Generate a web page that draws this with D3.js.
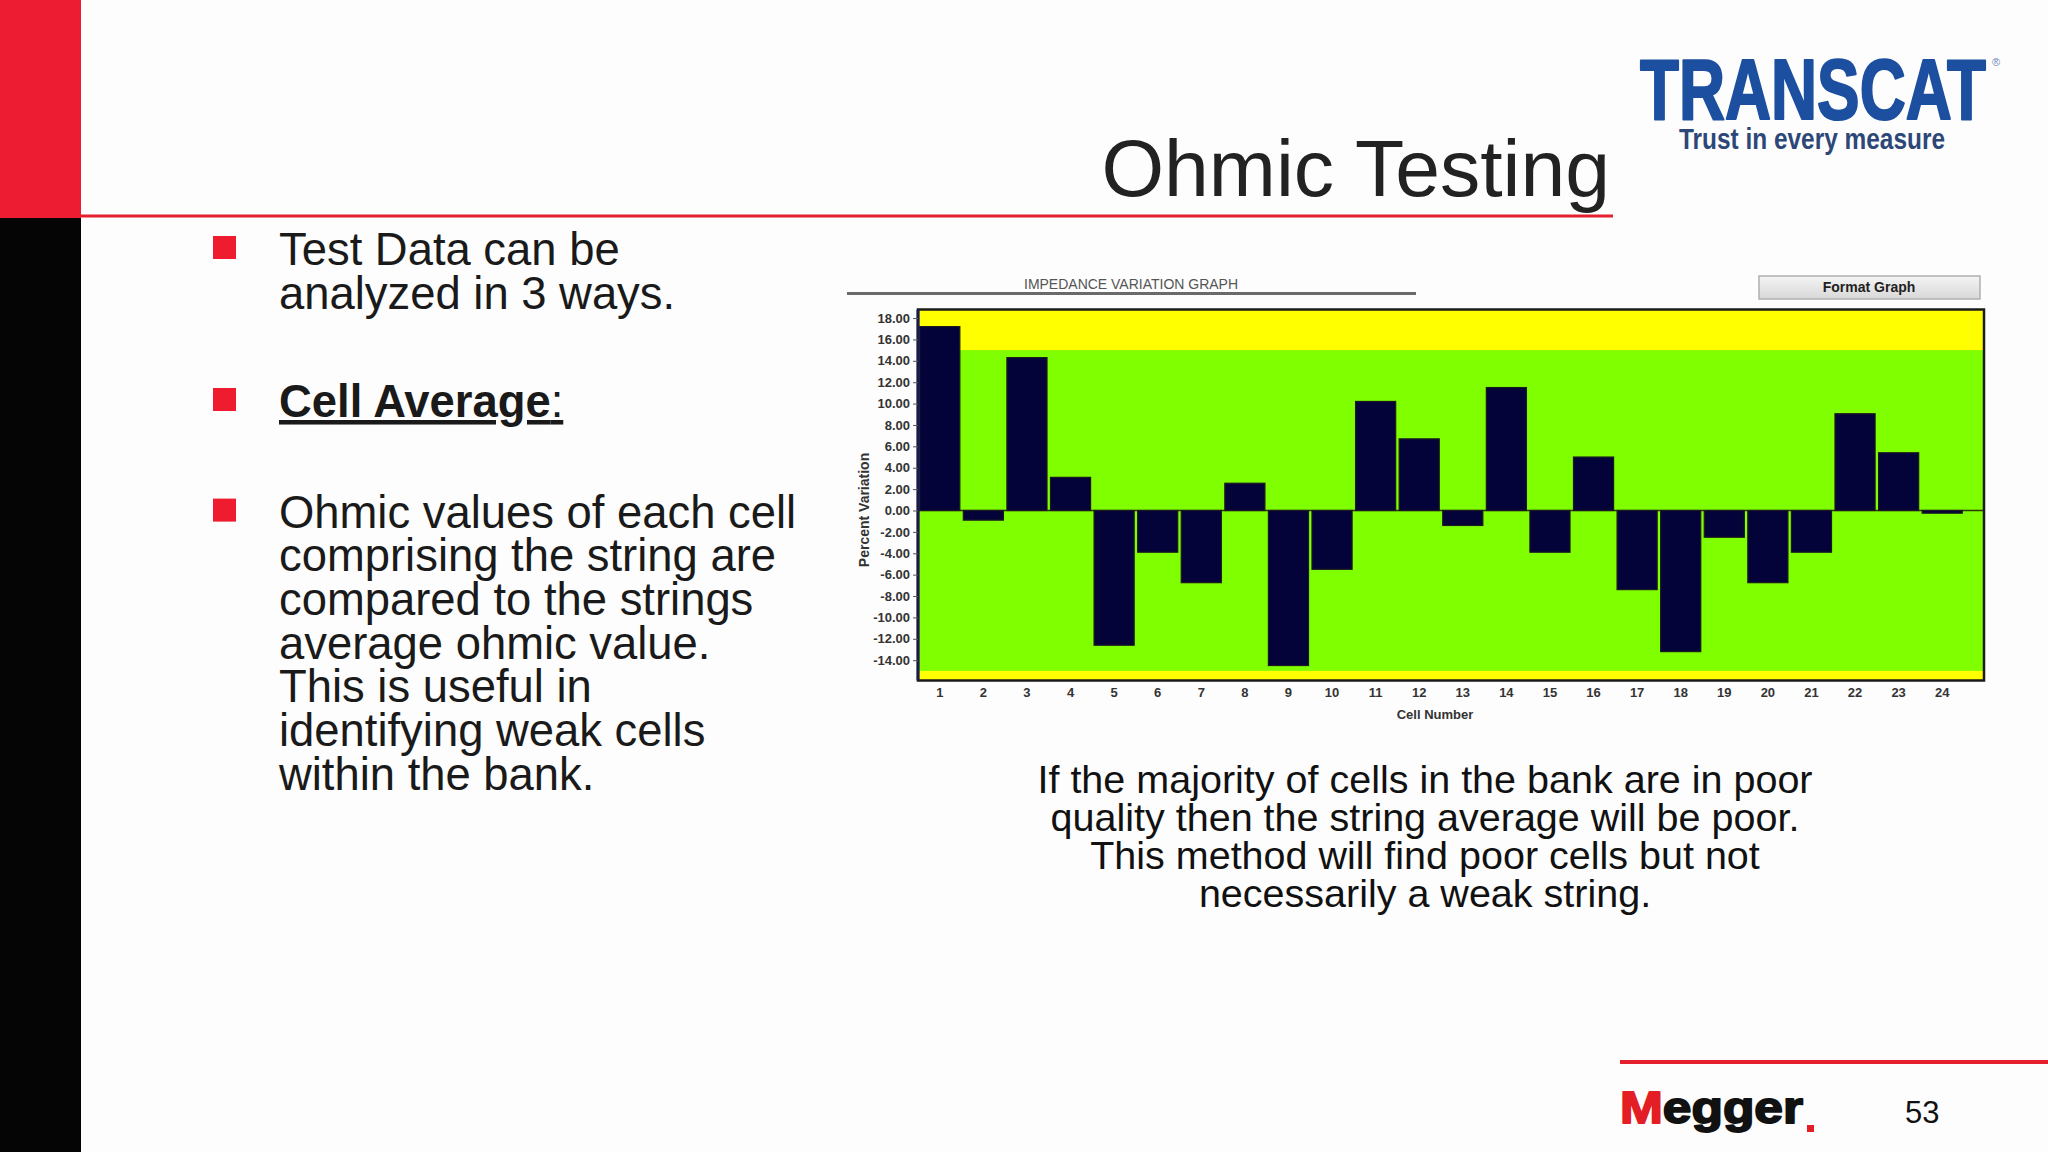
<!DOCTYPE html>
<html>
<head>
<meta charset="utf-8">
<script src="https://cdn.jsdelivr.net/npm/d3@7"></script>
<style>
  html, body { margin: 0; padding: 0; background: #fdfdfd; }
  svg { display: block; }
</style>
</head>
<body>
<svg id="slide" width="2048" height="1152"></svg>
<script>
// ---------- data ----------
const cells = [1,2,3,4,5,6,7,8,9,10,11,12,13,14,15,16,17,18,19,20,21,22,23,24];
const variation = [17.2,-0.9,14.3,3.1,-12.6,-3.9,-6.75,2.55,-14.5,-5.5,10.2,6.7,-1.4,11.5,-3.9,5.0,-7.4,-13.2,-2.5,-6.75,-3.9,9.05,5.4,-0.25];
const yTickValues = [18,16,14,12,10,8,6,4,2,0,-2,-4,-6,-8,-10,-12,-14];
const yDomain = [-15.9, 18.8];
const okBand = [-15, 15];          // green zone; yellow beyond
const chartTitle = "IMPEDANCE VARIATION GRAPH";
const yTitle = "Percent Variation";
const xTitle = "Cell Number";
const slideTitle = "Ohmic Testing";
const bullet1 = ["Test Data can be", "analyzed in 3 ways."];
const bullet3 = ["Ohmic values of each cell", "comprising the string are", "compared to the strings",
                 "average ohmic value.", "This is useful in", "identifying weak cells", "within the bank."];
const caption = ["If the majority of cells in the bank are in poor", "quality then the string average will be poor.",
                 "This method will find poor cells but not", "necessarily a weak string."];

const svg = d3.select("#slide");
const FONT = "'Liberation Sans', Arial, sans-serif";
const NARROW = "'Liberation Sans Narrow', 'Liberation Sans', Arial, sans-serif";

// ---------- slide decoration ----------
svg.append("rect").attr("x",0).attr("y",0).attr("width",2048).attr("height",1152).attr("fill","#fdfdfd");
svg.append("rect").attr("x",0).attr("y",0).attr("width",81).attr("height",218).attr("fill","#ee1c33");
svg.append("rect").attr("x",0).attr("y",218).attr("width",81).attr("height",934).attr("fill","#050505");
svg.append("rect").attr("x",81).attr("y",214.5).attr("width",1532).attr("height",3).attr("fill","#e5202e");

svg.append("text").attr("x",1610).attr("y",196).attr("text-anchor","end")
  .attr("font-family",FONT).attr("font-size",80.5).attr("fill","#222").text(slideTitle);

// TRANSCAT logo
svg.append("text").attr("x",1640).attr("y",119).attr("font-family",NARROW)
  .attr("font-weight","bold").attr("font-size",86).attr("fill","#1c4f9f")
  .attr("stroke","#1c4f9f").attr("stroke-width",2.2).attr("stroke-linejoin","round")
  .attr("textLength",346).attr("lengthAdjust","spacingAndGlyphs").text("TRANSCAT");
svg.append("text").attr("x",1992).attr("y",66).attr("font-family",FONT).attr("font-size",11).attr("fill","#6b86b8").text("®");
svg.append("text").attr("x",1679).attr("y",149).attr("font-family",NARROW)
  .attr("font-weight","bold").attr("font-size",29).attr("fill","#2d4878")
  .attr("textLength",266).attr("lengthAdjust","spacingAndGlyphs").text("Trust in every measure");

// bullets
const bulletX = 213, textX = 279, lh = 43.7;
function bulletSquare(baseline) {
  svg.append("rect").attr("x",bulletX).attr("y",baseline-29).attr("width",23).attr("height",23).attr("fill","#ee1c2e");
}
bulletSquare(265);
bullet1.forEach((t,i) => svg.append("text").attr("x",textX).attr("y",265+i*lh)
  .attr("font-family",FONT).attr("font-size",45.4).attr("fill","#1a1a1a").text(t));

bulletSquare(417);
const b2 = svg.append("text").attr("x",textX).attr("y",417).attr("font-family",FONT).attr("font-size",45.4)
  .attr("fill","#1a1a1a").attr("text-decoration","underline");
b2.append("tspan").attr("font-weight","bold").text("Cell Average");
b2.append("tspan").text(":");

bulletSquare(527.6);
bullet3.forEach((t,i) => svg.append("text").attr("x",textX).attr("y",527.6+i*lh)
  .attr("font-family",FONT).attr("font-size",45.4).attr("fill","#1a1a1a").text(t));

// caption
caption.forEach((t,i) => svg.append("text").attr("x",1425).attr("y",793+i*38).attr("text-anchor","middle")
  .attr("font-family",FONT).attr("font-size",39.5).attr("fill","#111").text(t));

// footer
svg.append("rect").attr("x",1620).attr("y",1060).attr("width",428).attr("height",4).attr("fill","#e5202e");
const meg = svg.append("text").attr("x",1620).attr("y",1123).attr("font-family",FONT).attr("font-weight","bold")
  .attr("font-size",44).attr("textLength",183).attr("lengthAdjust","spacingAndGlyphs")
  .attr("stroke-width",1.8).attr("stroke-linejoin","round");
meg.append("tspan").attr("fill","#e31e24").attr("stroke","#e31e24").text("M");
meg.append("tspan").attr("fill","#111").attr("stroke","#111").text("egger");
svg.append("rect").attr("x",1807).attr("y",1125).attr("width",7).attr("height",7).attr("fill","#e31e24");
svg.append("text").attr("x",1905).attr("y",1123).attr("font-family",FONT).attr("font-size",31).attr("fill","#111").text("53");

// ---------- chart ----------
const plot = {left: 918, right: 1984, top: 309.5, bottom: 680.5};
const bandRight = 1964;

const x = d3.scaleBand().domain(cells).range([plot.left, bandRight]).paddingInner(0.08).paddingOuter(0.04);
const y = d3.scaleLinear().domain(yDomain).range([plot.bottom, plot.top]);

// chart title + rule
svg.append("text").attr("x",1131).attr("y",289).attr("text-anchor","middle").attr("font-family",FONT)
  .attr("font-size",14).attr("fill","#555").attr("textLength",214).attr("lengthAdjust","spacingAndGlyphs").text(chartTitle);
svg.append("rect").attr("x",847).attr("y",292).attr("width",569).attr("height",3).attr("fill","#6a6a6a");

// Format Graph button
const grad = svg.append("defs").append("linearGradient").attr("id","btn").attr("x1",0).attr("y1",0).attr("x2",0).attr("y2",1);
grad.append("stop").attr("offset","0%").attr("stop-color","#f4f4f4");
grad.append("stop").attr("offset","100%").attr("stop-color","#d8d8d8");
svg.append("rect").attr("x",1759).attr("y",276).attr("width",221).attr("height",23)
  .attr("fill","url(#btn)").attr("stroke","#b0b0b0").attr("stroke-width",1.5);
svg.append("text").attr("x",1869).attr("y",291.5).attr("text-anchor","middle").attr("font-family",FONT)
  .attr("font-weight","bold").attr("font-size",14).attr("fill","#222").text("Format Graph");

// background zones
svg.append("rect").attr("x",plot.left).attr("y",plot.top).attr("width",plot.right-plot.left)
  .attr("height",plot.bottom-plot.top).attr("fill","#ffff00");
svg.append("rect").attr("x",plot.left).attr("y",y(okBand[1])).attr("width",plot.right-plot.left)
  .attr("height",y(okBand[0])-y(okBand[1])).attr("fill","#80ff00");

// zero line
svg.append("line").attr("x1",plot.left).attr("x2",plot.right).attr("y1",y(0)).attr("y2",y(0))
  .attr("stroke","#2a3a10").attr("stroke-width",1.5);

// bars
svg.append("g").selectAll("rect").data(cells).join("rect")
  .attr("x", d => x(d))
  .attr("width", x.bandwidth())
  .attr("y", (d,i) => y(Math.max(0, variation[i])))
  .attr("height", (d,i) => Math.abs(y(variation[i]) - y(0)))
  .attr("fill","#03033a").attr("stroke","#1a1a20").attr("stroke-width",1.2);

// frame
svg.append("rect").attr("x",plot.left).attr("y",plot.top).attr("width",plot.right-plot.left)
  .attr("height",plot.bottom-plot.top).attr("fill","none").attr("stroke","#1b1b1b").attr("stroke-width",2.5);
svg.append("line").attr("x1",plot.left).attr("x2",plot.left).attr("y1",plot.top).attr("y2",plot.bottom)
  .attr("stroke","#1a1a50").attr("stroke-width",3);

// y axis
const yAxis = svg.append("g").attr("transform",`translate(${plot.left},0)`)
  .call(d3.axisLeft(y).tickValues(yTickValues).tickFormat(d => d.toFixed(2)).tickSize(5).tickSizeOuter(0));
yAxis.select(".domain").remove();
yAxis.selectAll(".tick line").attr("stroke","#555");
yAxis.selectAll(".tick text").attr("font-family",FONT).attr("font-weight","bold").attr("font-size",13)
  .attr("fill","#333").attr("x",-8);

// x axis
const xAxis = svg.append("g").attr("transform",`translate(0,${plot.bottom})`)
  .call(d3.axisBottom(x).tickSize(0).tickPadding(7));
xAxis.select(".domain").remove();
xAxis.selectAll(".tick text").attr("font-family",FONT).attr("font-weight","bold").attr("font-size",13).attr("fill","#333");

// axis titles
svg.append("text").attr("transform","translate(869,510) rotate(-90)").attr("text-anchor","middle")
  .attr("font-family",FONT).attr("font-weight","bold").attr("font-size",14).attr("fill","#333").text(yTitle);
svg.append("text").attr("x",1435).attr("y",719).attr("text-anchor","middle")
  .attr("font-family",FONT).attr("font-weight","bold").attr("font-size",13).attr("fill","#333").text(xTitle);
</script>
</body>
</html>
